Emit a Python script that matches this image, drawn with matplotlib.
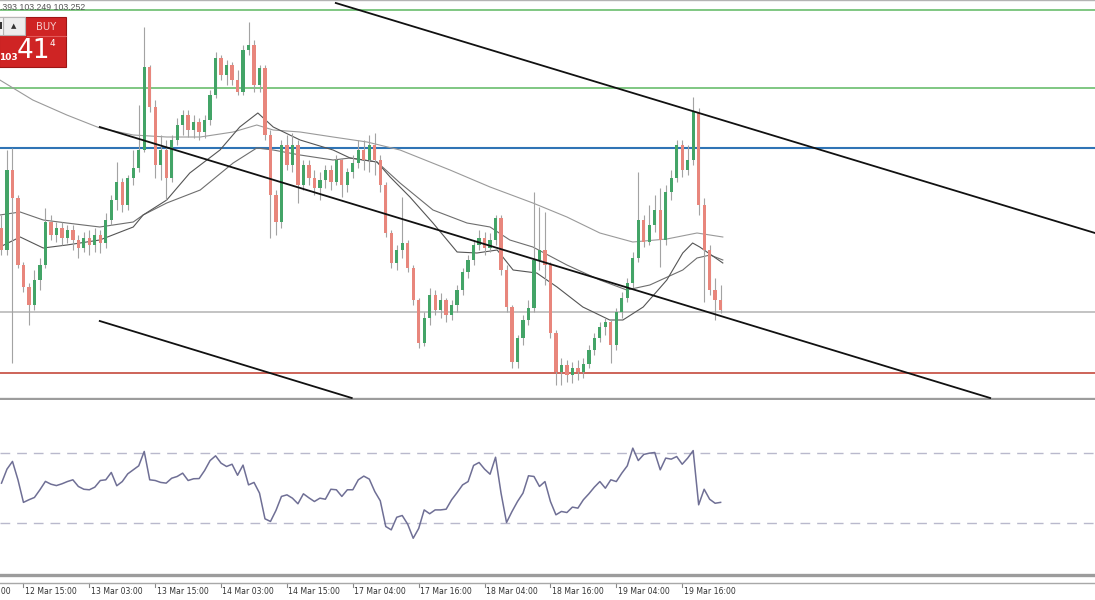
import matplotlib
matplotlib.use("Agg")
import matplotlib.pyplot as plt
from matplotlib.patches import Rectangle
from matplotlib.lines import Line2D
from matplotlib.transforms import blended_transform_factory
import numpy as np

# hourly candles (price), one per bar
opens = [103.860, 103.750, 104.150, 104.010, 103.675, 103.565, 103.475, 103.600, 103.675, 103.890,
         103.825, 103.860, 103.810, 103.850, 103.800, 103.760, 103.810, 103.775, 103.825, 103.785,
         103.900, 104.000, 104.090, 103.975, 104.110, 104.160, 104.250, 104.665, 104.465, 104.175,
         104.250, 104.110, 104.300, 104.375, 104.425, 104.350, 104.390, 104.340, 104.400, 104.525,
         104.710, 104.625, 104.675, 104.600, 104.540, 104.750, 104.775, 104.575, 104.660, 104.325,
         104.025, 103.890, 104.275, 104.175, 104.275, 104.075, 104.175, 104.110, 104.060, 104.100,
         104.150, 104.090, 104.200, 104.075, 104.140, 104.185, 104.250, 104.200, 104.275, 104.200,
         104.075, 103.835, 103.685, 103.750, 103.785, 103.660, 103.500, 103.285, 103.410, 103.525,
         103.450, 103.500, 103.425, 103.475, 103.550, 103.640, 103.700, 103.775, 103.810, 103.760,
         103.800, 103.910, 103.650, 103.465, 103.190, 103.310, 103.400, 103.460, 103.700, 103.750,
         103.675, 103.335, 103.140, 103.175, 103.125, 103.160, 103.140, 103.180, 103.250, 103.310,
         103.365, 103.390, 103.275, 103.440, 103.510, 103.585, 103.710, 103.900, 103.790, 103.875,
         103.950, 103.800, 104.040, 104.110, 104.275, 104.150, 104.200, 104.440, 103.975, 103.750,
         103.550, 103.500]
closes = [103.750, 104.150, 104.010, 103.675, 103.565, 103.475, 103.600, 103.675, 103.890, 103.825,
          103.860, 103.810, 103.850, 103.800, 103.760, 103.810, 103.775, 103.825, 103.785, 103.900,
          104.000, 104.090, 103.975, 104.110, 104.160, 104.250, 104.665, 104.465, 104.175, 104.250,
          104.110, 104.300, 104.375, 104.425, 104.350, 104.390, 104.340, 104.400, 104.525, 104.710,
          104.625, 104.675, 104.600, 104.540, 104.750, 104.775, 104.575, 104.660, 104.325, 104.025,
          103.890, 104.275, 104.175, 104.275, 104.075, 104.175, 104.110, 104.060, 104.100, 104.150,
          104.090, 104.200, 104.075, 104.140, 104.185, 104.250, 104.200, 104.275, 104.200, 104.075,
          103.835, 103.685, 103.750, 103.785, 103.660, 103.500, 103.285, 103.410, 103.525, 103.450,
          103.500, 103.425, 103.475, 103.550, 103.640, 103.700, 103.775, 103.810, 103.760, 103.800,
          103.910, 103.650, 103.465, 103.190, 103.310, 103.400, 103.460, 103.700, 103.750, 103.675,
          103.335, 103.140, 103.175, 103.125, 103.160, 103.140, 103.180, 103.250, 103.310, 103.365,
          103.390, 103.275, 103.440, 103.510, 103.585, 103.710, 103.900, 103.790, 103.875, 103.950,
          103.800, 104.040, 104.110, 104.275, 104.150, 104.200, 104.440, 103.975, 103.750, 103.550,
          103.500, 103.450]
highs = [103.925, 104.250, 104.260, 104.025, 103.690, 103.585, 103.650, 103.710, 103.960, 103.925,
         103.890, 103.890, 103.875, 103.875, 103.825, 103.840, 103.850, 103.860, 103.850, 103.935,
         104.025, 104.190, 104.110, 104.125, 104.250, 104.475, 104.865, 104.675, 104.500, 104.325,
         104.300, 104.325, 104.410, 104.450, 104.450, 104.425, 104.410, 104.425, 104.550, 104.740,
         104.725, 104.700, 104.690, 104.650, 104.775, 104.890, 104.800, 104.675, 104.675, 104.350,
         104.050, 104.300, 104.325, 104.335, 104.300, 104.200, 104.200, 104.150, 104.140, 104.175,
         104.175, 104.225, 104.210, 104.160, 104.225, 104.300, 104.300, 104.325, 104.335, 104.225,
         104.090, 103.850, 103.775, 104.015, 103.800, 103.675, 103.510, 103.440, 103.560, 103.550,
         103.535, 103.510, 103.500, 103.575, 103.660, 103.725, 103.800, 103.850, 103.840, 103.835,
         103.925, 103.925, 103.675, 103.475, 103.325, 103.425, 103.500, 104.040, 103.965, 103.940,
         103.690, 103.350, 103.210, 103.200, 103.190, 103.200, 103.210, 103.275, 103.335, 103.390,
         103.410, 103.400, 103.460, 103.540, 103.610, 103.740, 104.140, 103.925, 103.975, 104.025,
         104.060, 104.075, 104.150, 104.300, 104.300, 104.275, 104.515, 104.460, 104.010, 103.775,
         103.610, 103.575]
lows = [103.725, 103.725, 103.185, 103.660, 103.540, 103.375, 103.450, 103.550, 103.660, 103.800,
        103.790, 103.775, 103.785, 103.750, 103.710, 103.740, 103.725, 103.740, 103.735, 103.760,
        103.875, 103.950, 103.940, 103.950, 104.075, 104.140, 104.240, 104.440, 104.110, 104.100,
        104.000, 104.090, 104.275, 104.325, 104.315, 104.310, 104.300, 104.310, 104.375, 104.510,
        104.600, 104.575, 104.575, 104.525, 104.525, 104.725, 104.540, 104.540, 104.300, 103.810,
        103.825, 103.860, 104.150, 104.140, 103.985, 104.050, 104.075, 104.025, 104.000, 104.060,
        104.050, 104.075, 104.015, 104.040, 104.110, 104.160, 104.150, 104.140, 104.125, 104.040,
        103.815, 103.660, 103.650, 103.710, 103.640, 103.475, 103.260, 103.270, 103.375, 103.425,
        103.410, 103.390, 103.400, 103.440, 103.525, 103.610, 103.675, 103.750, 103.725, 103.740,
        103.775, 103.625, 103.440, 103.160, 103.160, 103.275, 103.375, 103.440, 103.650, 103.575,
        103.310, 103.075, 103.075, 103.090, 103.085, 103.100, 103.110, 103.160, 103.225, 103.290,
        103.325, 103.185, 103.250, 103.410, 103.490, 103.560, 103.690, 103.765, 103.775, 103.840,
        103.665, 103.775, 104.000, 104.090, 104.115, 104.125, 104.175, 103.925, 103.490, 103.525,
        103.400, 103.435]

rsi = [52.5, 60.5, 64.9, 54.4, 41.5, 43.0, 44.3, 48.7, 53.5, 51.9,
       51.1, 52.1, 53.4, 54.4, 50.6, 49.0, 48.7, 50.2, 54.0, 54.4,
       58.6, 51.0, 53.4, 57.8, 60.1, 62.4, 70.6, 54.4, 54.0, 52.9,
       52.5, 55.3, 56.3, 58.2, 54.0, 55.0, 55.1, 59.7, 65.4, 68.1,
       63.9, 62.0, 63.3, 57.0, 62.8, 51.5, 52.9, 46.8, 32.1, 30.6,
       36.9, 44.9, 45.8, 43.9, 40.7, 46.4, 44.1, 42.0, 43.9, 43.3,
       49.0, 48.7, 44.9, 48.7, 48.7, 54.4, 56.5, 54.8, 47.7, 42.4,
       27.7, 25.8, 33.0, 34.0, 29.0, 21.0, 26.6, 37.2, 35.0, 37.2,
       37.2, 37.6, 43.0, 47.1, 51.5, 53.4, 62.6, 64.3, 60.5, 57.6,
       67.3, 46.8, 30.0, 36.3, 42.0, 46.8, 56.7, 56.3, 50.6, 53.4,
       42.0, 34.4, 36.3, 35.7, 38.8, 38.2, 43.0, 46.4, 50.2, 53.4,
       49.6, 54.4, 53.4, 58.2, 62.4, 72.5, 65.4, 68.9, 69.6, 70.0,
       60.1, 66.8, 66.2, 67.7, 63.3, 66.8, 71.1, 40.1, 49.0, 43.3,
       41.0, 41.5]

# moving averages read as vertices (bar position, price)
ma_slow_x = [-0.3, 5.7, 11.9, 17.9, 24.0, 30.1, 36.2, 42.2, 46.5, 49.5, 54.4, 60.4, 66.6,
             72.6, 81.7, 89.0, 96.8, 103.0, 109.0, 115.0, 121.2, 126.7, 131.4]
ma_slow = [104.600, 104.500, 104.425, 104.360, 104.325, 104.315, 104.315, 104.340, 104.375,
           104.350, 104.340, 104.315, 104.290, 104.250, 104.150, 104.065, 103.985, 103.915,
           103.835, 103.790, 103.805, 103.835, 103.815]
ma_mid_x = [-0.3, 3.4, 7.6, 11.9, 17.9, 24.0, 25.8, 30.1, 36.2, 42.2, 46.5, 49.5, 54.4, 60.4,
            63.5, 68.4, 72.6, 78.6, 84.8, 89.0, 92.6, 96.8, 103.0, 109.0, 113.9, 118.1, 124.1,
            126.7, 129.1, 131.4]
ma_mid = [103.925, 103.940, 103.900, 103.885, 103.865, 103.890, 103.925, 103.985, 104.050,
          104.185, 104.260, 104.250, 104.225, 104.200, 104.210, 104.190, 104.085, 103.950,
          103.885, 103.865, 103.800, 103.765, 103.675, 103.600, 103.550, 103.575, 103.650,
          103.710, 103.725, 103.700]
ma_fast_x = [-0.3, 3.4, 7.6, 11.9, 17.9, 24.0, 25.8, 30.1, 34.3, 39.8, 43.4, 46.7, 49.5, 54.4,
             60.4, 63.5, 68.4, 70.8, 74.4, 78.6, 83.0, 86.6, 90.3, 93.2, 97.5, 101.2, 105.9,
             110.8, 113.2, 116.9, 121.2, 124.1, 125.9, 127.2, 131.4]
ma_fast = [103.765, 103.815, 103.760, 103.775, 103.800, 103.865, 103.925, 104.000, 104.135,
           104.250, 104.365, 104.435, 104.365, 104.300, 104.250, 104.210, 104.190, 104.115,
           104.015, 103.885, 103.740, 103.735, 103.750, 103.650, 103.635, 103.565, 103.465,
           103.400, 103.400, 103.465, 103.600, 103.735, 103.785, 103.765, 103.685]

# horizontal levels and channel lines
green_levels = [104.9525, 104.5625]
blue_level = 104.26
bid_level = 103.44
red_level = 103.135
channels = [((60.9, 104.985), (199.2, 103.835)),
            ((17.9, 104.365), (180.1, 103.010)),
            ((17.9, 103.395), (63.8, 103.010))]

tick_bars = [-8, 4, 16, 28, 40, 52, 64, 76, 88, 100, 112, 124]
tick_labels = ["12 Mar 03:00", "12 Mar 15:00", "13 Mar 03:00", "13 Mar 15:00", "14 Mar 03:00",
               "14 Mar 15:00", "17 Mar 04:00", "17 Mar 16:00", "18 Mar 04:00", "18 Mar 16:00",
               "19 Mar 04:00", "19 Mar 16:00"]

W, H = 1095, 600
fig = plt.figure(figsize=(W / 100, H / 100), dpi=100)
fig.patch.set_facecolor("white")

ax = fig.add_axes([0, 1 - 399 / H, 1, 399 / H])
ax2 = fig.add_axes([0, 25 / H, 1, 175 / H])

xlim = (-0.273, 199.2)
for a in (ax, ax2):
    a.set_xlim(*xlim)
    a.set_xticks([])
    a.set_yticks([])
    a.spines["left"].set_visible(False)
    a.spines["right"].set_visible(False)
ax.set_ylim(103.005, 105.0)
ax2.set_ylim(0, 100)
ax.spines["top"].set_color("#b4b4b4")
ax.spines["top"].set_linewidth(1.0)
ax.spines["bottom"].set_color("#9c9c9c")
ax.spines["bottom"].set_linewidth(2.4)
ax2.spines["top"].set_visible(False)
ax2.spines["bottom"].set_color("#9c9c9c")
ax2.spines["bottom"].set_linewidth(2.4)

# levels
for lv in green_levels:
    ax.axhline(lv, color="#5cb860", lw=1.1, zorder=1)
ax.axhline(blue_level, color="#2f74b5", lw=1.5, zorder=1)
ax.axhline(bid_level, color="#b9b9b9", lw=1.2, zorder=1)
ax.axhline(red_level, color="#c0392b", lw=1.1, zorder=1)

# moving averages
ax.plot(ma_slow_x, ma_slow, color="#9a9a9a", lw=0.8, zorder=2)
ax.plot(ma_mid_x, ma_mid, color="#6e6e6e", lw=0.8, zorder=2)
ax.plot(ma_fast_x, ma_fast, color="#555555", lw=0.8, zorder=2)

# candles
x = np.arange(len(closes))
o = np.array(opens)
c = np.array(closes)
up = c >= o
ax.vlines(x, lows, highs, color="#a3a3a3", lw=0.8, zorder=3)
bottoms = np.minimum(o, c)
heights = np.maximum(np.abs(c - o), 0.004)
ax.bar(x[up], heights[up], bottom=bottoms[up], width=0.6, color="#43a467", lw=0, zorder=4)
ax.bar(x[~up], heights[~up], bottom=bottoms[~up], width=0.6, color="#e8867c", lw=0, zorder=4)

# channel
for (x0, y0), (x1, y1) in channels:
    ax.plot([x0, x1], [y0, y1], color="#111111", lw=1.3, zorder=5)

# RSI panel
ax2.axhline(70, color="#b9b9cc", lw=1.0, dashes=(7, 5))
ax2.axhline(30, color="#b9b9cc", lw=1.0, dashes=(7, 5))
ax2.plot(x, rsi, color="#6f6f95", lw=1.1)

# time scale
tr = blended_transform_factory(ax2.transData, fig.transFigure)
fig.add_artist(Line2D([0, 1], [1 - 583 / H] * 2, transform=fig.transFigure, color="#a8a8a8", lw=1))
for b, lab in zip(tick_bars, tick_labels):
    ax2.plot([b, b], [1 - 583 / H, 1 - 587 / H], transform=tr, color="#888888", lw=0.8, clip_on=False)
    ax2.text(b + 0.25, 1 - 592 / H, lab, transform=tr, fontsize=5.6, color="#333333",
             ha="left", va="center", clip_on=False)

# header and one-click panel
def fx(px):
    return px / W


def fy(py):
    return 1 - py / H


fig.text(fx(0), fy(8), ".393 103.249 103.252", fontsize=6.3, color="#555555",
         family="Liberation Sans", va="center")
fig.add_artist(Rectangle((fx(-1), fy(67)), fx(67), 50 / H, transform=fig.transFigure,
                         facecolor="#cf2424", edgecolor="#9e1515", lw=0.8))
fig.add_artist(Rectangle((fx(2.5), fy(35)), fx(22), 18 / H, transform=fig.transFigure,
                         facecolor="#ededed", edgecolor="#b5b5b5", lw=0.8))
fig.add_artist(Rectangle((fx(-1), fy(35)), fx(3.5), 18 / H, transform=fig.transFigure,
                         facecolor="#f4f4f4", edgecolor="#b5b5b5", lw=0.8))
fig.add_artist(Rectangle((fx(0), fy(29)), fx(1.8), 7 / H, transform=fig.transFigure,
                         facecolor="#333333", edgecolor="none"))
fig.add_artist(Line2D([fx(27), fx(66)], [fy(35.5)] * 2, transform=fig.transFigure,
                      color="#e25a5a", lw=0.8))
fig.text(fx(14), fy(26), "\u25b2", fontsize=5, color="#333333", ha="center", va="center")
fig.text(fx(46), fy(26.5), "BUY", fontsize=7.2, color="#f6cccc", ha="center", va="center")
fig.text(fx(-0.5), fy(57), "103", fontsize=6.5, color="white", weight="bold", va="center")
fig.text(fx(17), fy(51), "41", fontsize=19, color="white", va="center")
fig.text(fx(50), fy(43), "4", fontsize=6.5, color="white", va="center")

fig.savefig("out.png", dpi=100)
